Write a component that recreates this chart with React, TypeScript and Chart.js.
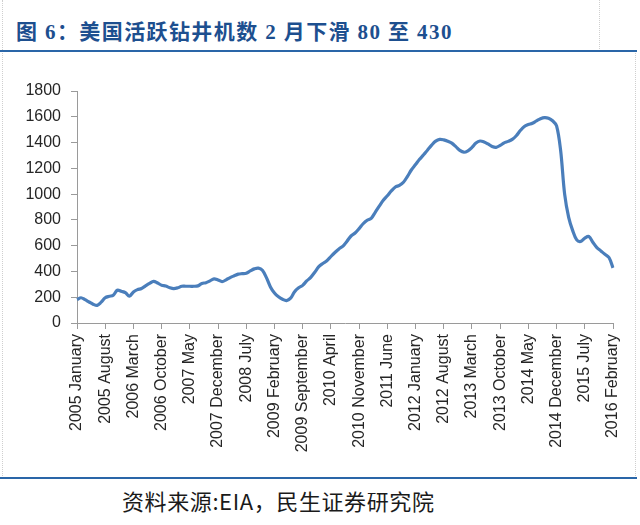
import React, { useEffect, useRef } from "react";
import { Chart, registerables } from "chart.js";

Chart.register(...registerables);

const TITLE = "图 6：美国活跃钻井机数 2 月下滑 80 至 430";
const SOURCE = "资料来源:EIA，民生证券研究院";

const years = [2005, 2006, 2007, 2008, 2009, 2010, 2011, 2012, 2013, 2014, 2015, 2016];
const monthNames = [
  "January", "February", "March", "April", "May", "June",
  "July", "August", "September", "October", "November", "December",
];

const rigs2005 = [182, 196, 181, 163, 146, 137, 162, 196, 207, 215, 254, 246];
const rigs2006 = [236, 208, 241, 259, 268, 288, 307, 323, 310, 293, 287, 274];
const rigs2007 = [267, 273, 285, 285, 285, 285, 288, 307, 313, 327, 343, 334];
const rigs2008 = [321, 335, 352, 366, 379, 383, 386, 404, 420, 426, 409, 352];
const rigs2009 = [280, 232, 203, 184, 174, 193, 243, 273, 292, 326, 354, 394];
const rigs2010 = [437, 462, 483, 516, 547, 575, 596, 635, 675, 698, 732, 770];
const rigs2011 = [797, 812, 859, 907, 952, 987, 1025, 1055, 1068, 1092, 1138, 1189];
const rigs2012 = [1229, 1270, 1305, 1343, 1380, 1411, 1425, 1421, 1410, 1395, 1368, 1339];
const rigs2013 = [1325, 1336, 1362, 1397, 1412, 1405, 1389, 1370, 1363, 1378, 1398, 1409];
const rigs2014 = [1425, 1453, 1493, 1525, 1540, 1550, 1568, 1585, 1594, 1589, 1569, 1530];
const rigs2015 = [1340, 1000, 820, 717, 645, 633, 658, 671, 627, 585, 559, 533];
const rigs2016 = [508, 428];

const yearlySeries = [
  rigs2005, rigs2006, rigs2007, rigs2008, rigs2009, rigs2010,
  rigs2011, rigs2012, rigs2013, rigs2014, rigs2015, rigs2016,
];

const labelEvery = 7;
const yMax = 1800;
const yStep = 200;

const values: number[] = [];
const categories: string[] = [];
yearlySeries.forEach((arr, yi) => {
  arr.forEach((v, mi) => {
    values.push(v);
    categories.push(`${years[yi]} ${monthNames[mi]}`);
  });
});

const CANVAS_TOP = 60;
const CANVAS_W = 640;
const CANVAS_H = 415;

export default function App() {
  const ref = useRef<HTMLCanvasElement | null>(null);

  useEffect(() => {
    if (!ref.current) return;
    const axisColor = "#9a9a9a";
    const chart = new Chart(ref.current, {
      type: "line",
      data: {
        labels: categories,
        datasets: [
          {
            data: values,
            borderColor: "#4a7ebb",
            borderWidth: 3.2,
            pointRadius: 0,
            tension: 0.35,
            fill: false,
          },
        ],
      },
      options: {
        animation: false,
        responsive: false,
        devicePixelRatio: 1,
        layout: { padding: { top: 31, right: 27, left: 0, bottom: 0 } },
        plugins: { legend: { display: false }, tooltip: { enabled: false } },
        scales: {
          x: {
            type: "category",
            offset: false,
            grid: {
              drawOnChartArea: false,
              drawTicks: true,
              tickLength: 6,
              color: (ctx: any) => (ctx.index % labelEvery === 0 ? axisColor : "rgba(0,0,0,0)"),
            },
            border: { display: true, color: axisColor, width: 1 },
            ticks: {
              autoSkip: false,
              minRotation: 90,
              maxRotation: 90,
              padding: 5,
              color: "#262626",
              font: { family: "'Liberation Sans', Arial, sans-serif", size: 16 },
              callback: (_v: any, i: number) => (i % labelEvery === 0 ? categories[i] : ""),
            },
            afterFit: (scale: any) => {
              scale.height = CANVAS_H - (323 - CANVAS_TOP);
            },
          },
          y: {
            min: 0,
            max: yMax,
            grid: { drawOnChartArea: false, drawTicks: true, tickLength: 6, color: axisColor },
            border: { display: true, color: axisColor, width: 1 },
            ticks: {
              stepSize: yStep,
              padding: 10,
              color: "#262626",
              font: { family: "'Liberation Sans', Arial, sans-serif", size: 16 },
              callback: (v: any) => String(v),
            },
            afterFit: (scale: any) => {
              scale.width = 77;
            },
          },
        },
      },
    });
    return () => chart.destroy();
  }, []);

  return (
    <div style={{ position: "absolute", left: 0, top: 0, width: 640, height: 525, background: "#fff", overflow: "hidden" }}>
      <div style={{ position: "absolute", left: 2, top: 0, height: 478, borderLeft: "1px dotted #cfcfcf" }} />
      <div style={{ position: "absolute", left: 599, top: 0, height: 51, borderLeft: "1px dotted #cfcfcf" }} />
      <div style={{ position: "absolute", left: 635, top: 51, height: 427, borderLeft: "1px dotted #cfcfcf" }} />
      <div
        style={{
          position: "absolute",
          left: 16,
          top: 19,
          lineHeight: "26px",
          fontSize: 21,
          fontWeight: "bold",
          letterSpacing: 1.4,
          whiteSpace: "nowrap",
          color: "#1d4f8f",
          fontFamily: "'Liberation Serif', 'Times New Roman', 'Noto Sans CJK SC', serif",
        }}
      >
        {TITLE}
      </div>
      <div style={{ position: "absolute", left: 0, top: 50, width: 637, height: 2, background: "#2a66a8" }} />
      <canvas
        ref={ref}
        width={CANVAS_W}
        height={CANVAS_H}
        style={{ position: "absolute", left: 0, top: CANVAS_TOP, width: CANVAS_W, height: CANVAS_H }}
      />
      <div style={{ position: "absolute", left: 0, top: 477, width: 637, height: 2, background: "#2a66a8" }} />
      <div
        style={{
          position: "absolute",
          left: 122,
          top: 487,
          lineHeight: "26px",
          fontSize: 22,
          letterSpacing: 0.6,
          whiteSpace: "nowrap",
          color: "#1a1a1a",
          fontFamily: "'Noto Sans CJK SC', sans-serif",
        }}
      >
        {SOURCE}
      </div>
    </div>
  );
}
